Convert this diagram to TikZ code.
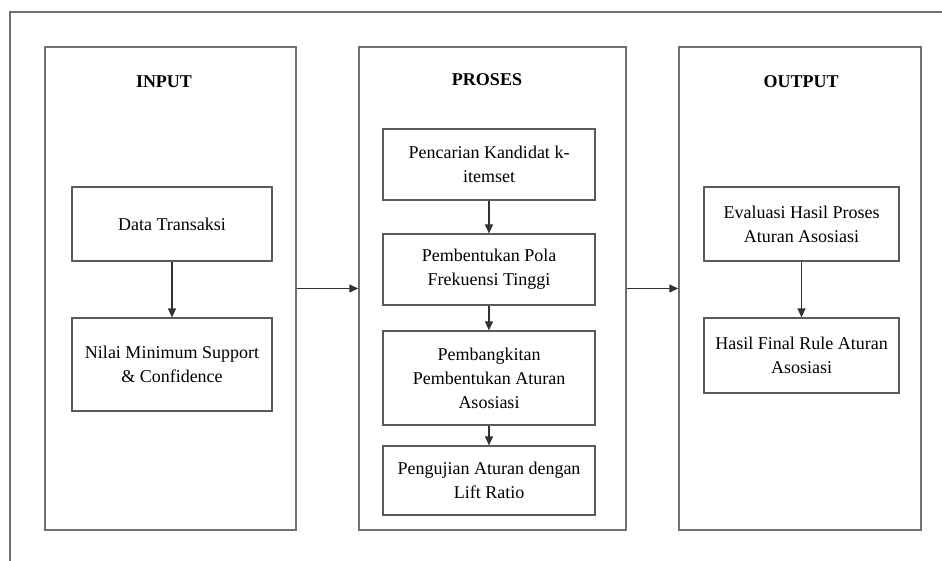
\documentclass[tikz,border=0pt]{standalone}
\usepackage{fontspec}
\setmainfont{Liberation Serif}
\usetikzlibrary{arrows.meta}
\definecolor{frameline}{RGB}{112,112,112}
\definecolor{boxline}{RGB}{90,90,90}
\definecolor{arrowline}{RGB}{50,50,50}
\tikzset{
  colbox/.style={draw=frameline, line width=1.4pt, minimum width=#1, minimum height=483pt, inner sep=0pt},
  stepbox/.style={draw=boxline, line width=1.2pt, align=center, inner sep=0pt,
    font=\fontsize{18}{24}\selectfont},
  title/.style={font=\fontsize{18}{22}\selectfont\bfseries},
  flow/.style={draw=arrowline, line width=1.2pt, -{Triangle[length=9pt,width=8pt]}}
}
\begin{document}
\begin{tikzpicture}[x=1pt,y=-1pt]
\useasboundingbox (0,0) rectangle (942,561);
% outer frame (top and left edges)
\draw[frameline, line width=1.4pt] (942,12) -- (10,12) -- (10,561);

% three columns
\node[colbox=251pt] (inp) at (170.5,288.5) {};
\node[colbox=267pt] (pro) at (492.5,288.5) {};
\node[colbox=242pt] (out) at (800,288.5) {};

\node[title] (tin) at (164,82) {INPUT};
\node[title] (tpr) at (487,80) {PROSES};
\node[title] (tou) at (801,82) {OUTPUT};

% input steps
\node[stepbox, minimum width=200pt, minimum height=74pt] (dt) at (172,224) {Data Transaksi};
\node[stepbox, minimum width=200pt, minimum height=93pt] (nm) at (172,364.5) {Nilai Minimum Support\\ \& Confidence};

% process steps
\node[stepbox, minimum width=212pt, minimum height=71pt] (p1) at (489,164.5) {Pencarian Kandidat k-\\itemset};
\node[stepbox, minimum width=212pt, minimum height=71pt] (p2) at (489,269.5) {Pembentukan Pola\\Frekuensi Tinggi};
\node[stepbox, minimum width=212pt, minimum height=94pt] (p3) at (489,378) {Pembangkitan\\Pembentukan Aturan\\Asosiasi};
\node[stepbox, minimum width=212pt, minimum height=69pt] (p4) at (489,480.5) {Pengujian Aturan dengan\\Lift Ratio};

% output steps
\node[stepbox, minimum width=195pt, minimum height=74pt] (o1) at (801.5,224) {Evaluasi Hasil Proses\\Aturan Asosiasi};
\node[stepbox, minimum width=195pt, minimum height=75pt] (o2) at (801.5,355.5) {Hasil Final Rule Aturan\\Asosiasi};

% connectors
\draw[flow] (dt) -- (nm);
\draw[flow] (p1) -- (p2);
\draw[flow] (p2) -- (p3);
\draw[flow] (p3) -- (p4);
\draw[flow] (o1) -- (o2);
\draw[flow] (inp.east) -- (pro.west);
\draw[flow] (pro.east) -- (out.west);
\end{tikzpicture}
\end{document}
